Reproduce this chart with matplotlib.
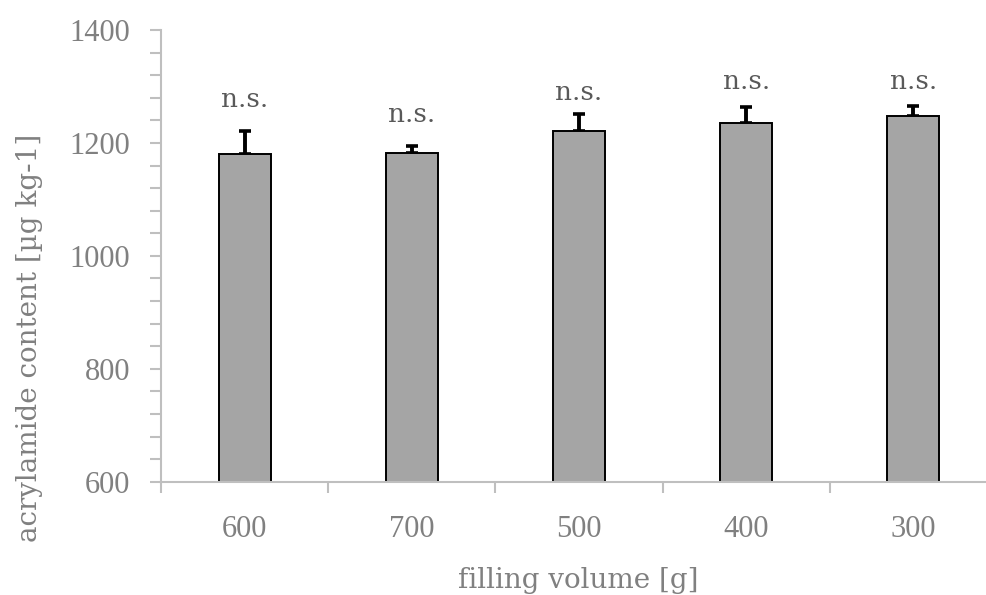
import matplotlib
matplotlib.use("Agg")
import matplotlib.pyplot as plt
from matplotlib.ticker import MultipleLocator

# filling volume categories, in the order shown
volumes = ['600', '700', '500', '400', '300']
acrylamide = [1180, 1182, 1222, 1236, 1248]
err_up = [41, 13, 30, 28, 17]
sig = ['n.s.', 'n.s.', 'n.s.', 'n.s.', 'n.s.']
sig_y = [1264, 1237, 1276, 1295, 1295]

word_font = ['DejaVu Serif']
num_font = ['Liberation Serif', 'DejaVu Serif']

fig = plt.figure(figsize=(9.87, 5.95), dpi=100)
ax = fig.add_axes([161/987, (595-481.7)/595, 836/987, 451.7/595])

x = list(range(len(volumes)))
# error bars behind bars so only the upper half shows
ax.errorbar(x, acrylamide, yerr=[[0]*len(err_up), err_up], fmt='none',
            ecolor='black', elinewidth=2.8, capsize=4.5, capthick=2.6, zorder=1)
ax.bar(x, acrylamide, width=0.31, color='#A5A5A5', edgecolor='black',
       linewidth=1.4, zorder=2)

for i, (lab, yy) in enumerate(zip(sig, sig_y)):
    ax.text(i, yy, lab, ha='center', va='baseline', fontsize=19,
            color='#595959', family=word_font)

ax.set_xlim(-0.5, len(volumes) - 0.5)
ax.set_ylim(600, 1400)
ax.yaxis.set_major_locator(MultipleLocator(200))
ax.yaxis.set_minor_locator(MultipleLocator(40))

ax.set_xticks([i + 0.5 for i in range(-1, len(volumes))])
ax.set_xticklabels([])
ax.set_xticks(x, minor=True)
ax.set_xticklabels(volumes, minor=True)

grey = '#BFBFBF'
for s in ['top', 'right']:
    ax.spines[s].set_visible(False)
for s in ['left', 'bottom']:
    ax.spines[s].set_color(grey)
    ax.spines[s].set_linewidth(1.5)

ax.tick_params(axis='y', which='both', direction='out', length=8, width=1.5,
               color=grey, labelsize=22, labelcolor='#808080', pad=14)
ax.tick_params(axis='x', which='major', direction='out', length=8, width=1.5,
               color=grey)
ax.tick_params(axis='x', which='minor', length=0, labelsize=22,
               labelcolor='#808080', pad=24)
for t in ax.get_yticklabels() + ax.get_xticklabels(minor=True):
    t.set_family(num_font)

ax.set_xlabel('filling volume [g]', fontsize=20, color='#808080', family=word_font)
ax.set_ylabel('acrylamide content [µg kg-1]', fontsize=20, color='#808080',
              family=word_font)
ax.xaxis.set_label_coords((578-161)/836, -(588-481.7)/451.7)
ax.xaxis.label.set_va('baseline')
ax.yaxis.set_label_coords(-(161-30)/836, (481.7-338)/451.7)
ax.yaxis.label.set_va('center')

fig.savefig('out.png', dpi=100)
